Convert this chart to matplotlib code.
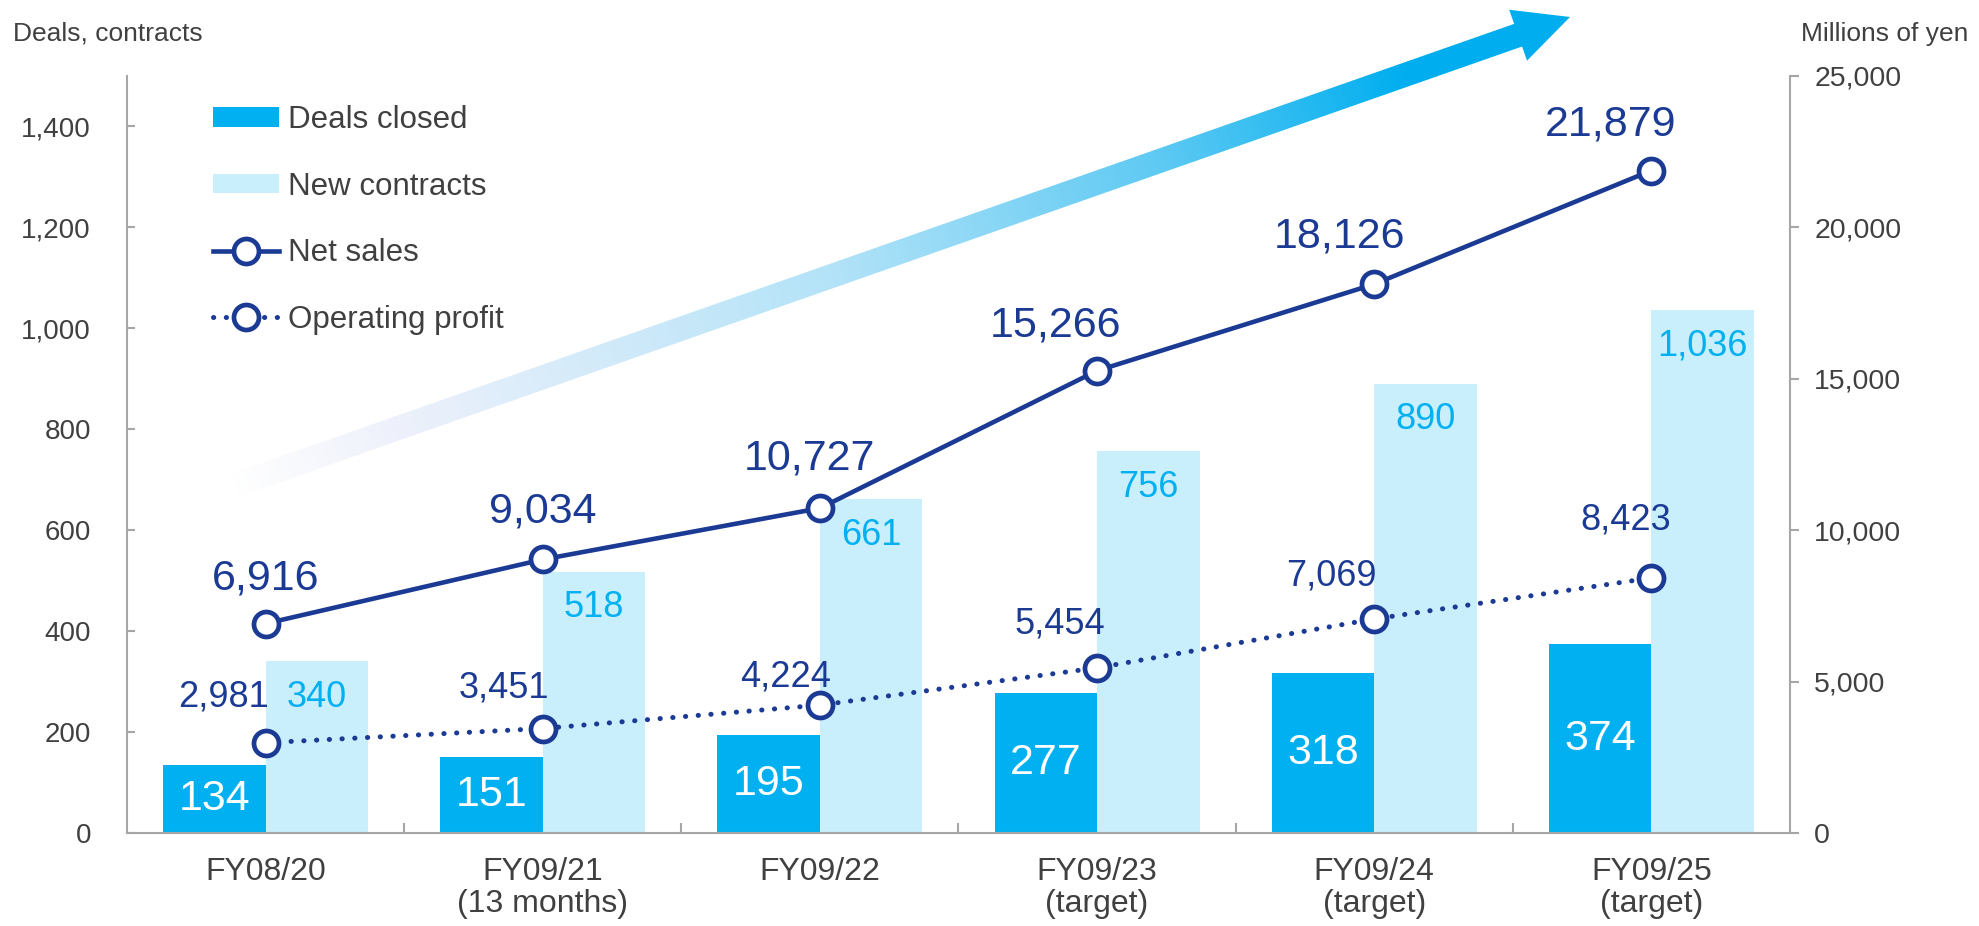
import numpy as np
import matplotlib
matplotlib.use("Agg")
from matplotlib import pyplot as plt
from matplotlib.patches import Polygon, Patch
from matplotlib.lines import Line2D
from matplotlib.colors import LinearSegmentedColormap

plt.rcParams['font.family'] = ['Liberation Sans', 'DejaVu Sans']

# data
years = ['FY08/20', 'FY09/21\n(13 months)', 'FY09/22', 'FY09/23\n(target)',
         'FY09/24\n(target)', 'FY09/25\n(target)']
deals = [134, 151, 195, 277, 318, 374]
contracts = [340, 518, 661, 756, 890, 1036]
net_sales = [6916, 9034, 10727, 15266, 18126, 21879]
op_profit = [2981, 3451, 4224, 5454, 7069, 8423]

navy = '#1B3A94'
cyan = '#00B0F0'
pale = '#C9EEFC'
grey = '#404040'
spine = '#A6A6A6'

W, H = 1979, 926
fig = plt.figure(figsize=(W / 100, H / 100), dpi=100)

# background gradient arrow, drawn in pixel coordinates
bg = fig.add_axes([0, 0, 1, 1], zorder=0)
bg.set_xlim(0, W)
bg.set_ylim(H, 0)
bg.axis('off')
tail = np.array([230.0, 487.0])
tip = np.array([1570.0, 17.0])
u = (tip - tail) / np.linalg.norm(tip - tail)
n = np.array([-u[1], u[0]])
w, hw, hl = 12, 27, 55
base = tip - hl * u
poly = [tail + w * n, base + w * n, base + hw * n, tip,
        base - hw * n, base - w * n, tail - w * n]
arrow = Polygon(poly, closed=True, facecolor='none', edgecolor='none')
bg.add_patch(arrow)
xx, yy = np.meshgrid(np.linspace(0, W, 600), np.linspace(0, H, 300))
t = ((xx - tail[0]) * u[0] + (yy - tail[1]) * u[1]) / np.linalg.norm(tip - tail)
cmap = LinearSegmentedColormap.from_list('arr', [
    (0.0, '#FFFFFF'), (0.12, '#EEF1FB'), (0.45, '#B3E3F8'),
    (0.7, '#5CC9F3'), (0.88, '#00AEEF'), (1.0, '#00AEEF')])
im = bg.imshow(t, extent=[0, W, H, 0], cmap=cmap, vmin=0, vmax=1,
               aspect='auto', zorder=1)
im.set_clip_path(arrow)

# main axes
ax = fig.add_axes([127 / W, 1 - 833 / H, (1790 - 127) / W, (833 - 76) / H], zorder=1)
ax.patch.set_alpha(0)
x = np.arange(len(years))
bw = 0.37
ax.bar(x - bw / 2, deals, bw, color=cyan, zorder=2)
ax.bar(x + bw / 2, contracts, bw, color=pale, zorder=2)
for i in range(len(x)):
    ax.text(x[i] - bw / 2, deals[i] / 2, f'{deals[i]:,}', ha='center', va='center',
            color='white', fontsize=31, zorder=3)
    ax.annotate(f'{contracts[i]:,}', (x[i] + bw / 2, contracts[i]), xytext=(0, -26),
                textcoords='offset points', ha='center', va='center',
                color=cyan, fontsize=26, zorder=3)

ax.set_xlim(-0.5, len(years) - 0.5)
ax.set_ylim(0, 1500)
ax.set_yticks(range(0, 1401, 200))
ax.set_yticklabels([f'{v:,}' for v in range(0, 1401, 200)])
ax.set_xticks(x)
ax.set_xticklabels(years, linespacing=1.1)
ax.set_xticks(x[:-1] + 0.5, minor=True)
ax.tick_params(axis='x', which='major', length=0, pad=17, labelsize=23, labelcolor=grey)
ax.tick_params(axis='x', which='minor', direction='in', length=7, width=1.5, color=spine)
ax.tick_params(axis='y', direction='in', length=6, width=1.5, color=spine,
               pad=26, labelsize=20, labelcolor=grey)
for s in ['top', 'right']:
    ax.spines[s].set_visible(False)
for s in ['left', 'bottom']:
    ax.spines[s].set_color(spine)
    ax.spines[s].set_linewidth(1.5)

ax2 = ax.twinx()
ax2.set_ylim(0, 25000)
ax2.set_yticks(range(0, 25001, 5000))
ax2.set_yticklabels([f'{v:,}' for v in range(0, 25001, 5000)])
ax2.tick_params(axis='y', direction='out', length=6.5, width=1.5, color=spine,
                pad=11, labelsize=20.5, labelcolor=grey)
for s in ['top', 'left', 'bottom']:
    ax2.spines[s].set_visible(False)
ax2.spines['right'].set_color(spine)
ax2.spines['right'].set_linewidth(1.5)

mk = dict(marker='o', markersize=18, markerfacecolor='white',
          markeredgecolor=navy, markeredgewidth=3.4)
dots = (0, (0.05, 2.5))
ax2.plot(x, net_sales, color=navy, lw=3.3, zorder=4, **mk)
ax2.plot(x, op_profit, color=navy, lw=3.6, zorder=4, linestyle=dots,
         dash_capstyle='round', **mk)

# label offsets in pixels (label centre relative to marker)
ns_off = [(0, -45), (0, -48), (-10, -50), (-42, -45), (-35, -48), (-41, -46)]
op_off = [(-42, -46), (-39, -41), (-34, -28), (-37, -44), (-43, -43), (-26, -58)]
for i in range(len(x)):
    dx, dy = ns_off[i]
    ax2.annotate(f'{net_sales[i]:,}', (x[i], net_sales[i]), xytext=(dx * 0.72, -dy * 0.72),
                 textcoords='offset points', ha='center', va='center',
                 color=navy, fontsize=31, zorder=5)
    dx, dy = op_off[i]
    ax2.annotate(f'{op_profit[i]:,}', (x[i], op_profit[i]), xytext=(dx * 0.72, -dy * 0.72),
                 textcoords='offset points', ha='center', va='center',
                 color=navy, fontsize=26, zorder=5)

# legend
handles = [
    Patch(facecolor=cyan, edgecolor='none'),
    Patch(facecolor=pale, edgecolor='none'),
    Line2D([], [], color=navy, lw=3.3, **mk),
    Line2D([], [], color=navy, lw=3.6, linestyle=dots, dash_capstyle='round', **mk),
]
labels = ['Deals closed', 'New contracts', 'Net sales', 'Operating profit']
ax2.legend(handles, labels, loc='upper left', bbox_to_anchor=(213 / W, 1 - 105 / H),
           bbox_transform=fig.transFigure, frameon=False, fontsize=22.5,
           labelcolor=grey, handlelength=2.1, handleheight=0.6, handletextpad=0.3,
           labelspacing=1.17, borderpad=0, borderaxespad=0)

fig.text(13 / W, 1 - 34 / H, 'Deals, contracts', ha='left', va='center',
         fontsize=19, color=grey)
fig.text(1968 / W, 1 - 34 / H, 'Millions of yen', ha='right', va='center',
         fontsize=19, color=grey)

fig.savefig('out.png', dpi=100)
